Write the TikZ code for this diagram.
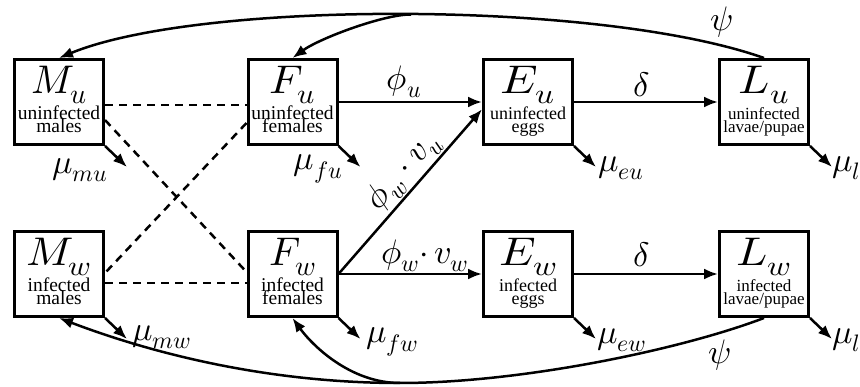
\documentclass[tikz,border=0pt]{standalone}
\usepackage{fontspec}
\usepackage{unicode-math}
\usepackage{graphicx}
\setmainfont{Liberation Serif}
\setmathfont{Latin Modern Math}
\usetikzlibrary{arrows.meta,calc}

\newcommand{\compbox}[7]{%
  \node[box] (#1) at (#2,#3) {};
  \node[big] (#1T) at ($(#1.north)+(0,36)$) {#4};
  \node[sml,font=\fontsize{#7}{#7}\selectfont] (#1A) at ($(#1.north)+(0,62)$) {#5};
  \node[sml,font=\fontsize{#7}{#7}\selectfont] (#1B) at ($(#1.north)+(0,75)$) {#6};
}

\begin{document}
\begin{tikzpicture}[x=1pt,y=-1pt,
  box/.style={draw, line width=3pt, minimum width=89pt, minimum height=85pt, inner sep=0pt},
  big/.style={anchor=base, inner sep=0pt, font=\fontsize{40}{40}\selectfont},
  sml/.style={anchor=base, inner sep=0pt, font=\fontsize{19}{19}\selectfont},
  lab/.style={inner sep=1pt, font=\fontsize{34}{34}\selectfont},
  flow/.style={line width=2.5pt, -{Latex[length=14pt,width=11pt]}},
  mate/.style={line width=2.5pt, dash pattern=on 8pt off 6pt},
]
\useasboundingbox (0,0) rectangle (860,387);

% compartments
\compbox{Mu}{59}{102}{$M_u$}{uninfected}{males}{19.5}
\compbox{Fu}{292.5}{102}{\scalebox{1.08}[1]{$F_u$}}{uninfected}{females}{19.5}
\compbox{Eu}{528}{102}{\scalebox{1.18}[1]{$E_u$}}{uninfected}{eggs}{18}
\compbox{Lu}{764}{102}{\scalebox{1.15}[1]{$L_u$}}{uninfected}{lavae/pupae}{17}
\compbox{Mw}{59}{274}{\scalebox{1.1}[1]{$M_w$}}{infected}{males}{19.5}
\compbox{Fw}{292.5}{274}{$F_w$}{infected}{females}{19.5}
\compbox{Ew}{528}{274}{\scalebox{1.15}[1]{$E_w$}}{infected}{eggs}{18}
\compbox{Lw}{764}{274}{\scalebox{1.15}[1]{$L_w$}}{infected}{lavae/pupae}{17}

% mating (dashed)
\draw[mate] ($(Mu.east)+(0,3)$) -- ($(Fu.west)+(0,3)$);
\draw[mate] ($(Mw.east)+(0,9)$) -- ($(Fw.west)+(0,9)$);
\draw[mate] ($(Mu.east)+(0,18)$) -- ($(Fw.west)+(0,-2)$);
\draw[mate] ($(Fu.west)+(0,21)$) -- ($(Mw.east)+(0,-1)$);

% egg laying and development
\draw[flow] (Fu.east) -- (Eu.west);
\node[lab] (phiu) at (404,82) {$\phi_u$};
\draw[flow] (Eu.east) -- (Lu.west);
\node[lab] (delu) at (642,85) {$\delta$};
\draw[flow] (Fw.east) -- (Ew.west);
\node[lab] (phiw) at (425,256) {$\phi_w{\cdot}\,v_w$};
\draw[flow] (Ew.east) -- (Lw.west);
\node[lab] (delw) at (642,255) {$\delta$};
\draw[flow] (Fw.east) -- node[lab, sloped, above, pos=0.55] (phiwu) {$\phi_w\cdot v_u$} (Eu.189);

% mortality
\foreach \n in {Mu,Fu,Eu,Lu,Mw,Fw,Ew,Lw}{
  \coordinate (d\n) at ($(\n.south east)+(22,21)$);
  \draw[flow] (\n.south east) -- (d\n);
}
\node[lab] (mmu) at (80,170) {$\mu_{mu}$};
\node[lab] (mfu) at (318,169) {$\mu_{fu}$};
\node[lab] (meu) at (621,168) {$\mu_{eu}$};
\node[lab, anchor=west] (mlu) at (831,168) {$\mu_{l}$};
\node[lab] (mmw) at (162,337) {$\mu_{mw}$};
\node[lab] (mfw) at (392,342) {$\mu_{fw}$};
\node[lab] (mew) at (622,340) {$\mu_{ew}$};
\node[lab, anchor=west] (mlw) at (831,340) {$\mu_{l}$};

% emergence (top)
\draw[flow] (Lu.north) .. controls (600,0) and (200,0) .. coordinate[pos=0.49] (tb) (Mu.north);
\draw[flow] (tb) .. controls (385,14) and (320,38) .. (Fu.north);
\node[lab] (psiu) at (722,22) {$\psi$};

% emergence (bottom)
\coordinate (bc) at (400,383);
\draw[flow] (Lw.south) .. controls (680,350) and (520,383) .. (bc) .. controls (250,383) and (130,345) .. (Mw.south);
\draw[flow] (bc) .. controls (350,383) and (312,345) .. (Fw.south);
\node[lab] (psiw) at (720,355) {$\psi$};
\end{tikzpicture}
\end{document}
